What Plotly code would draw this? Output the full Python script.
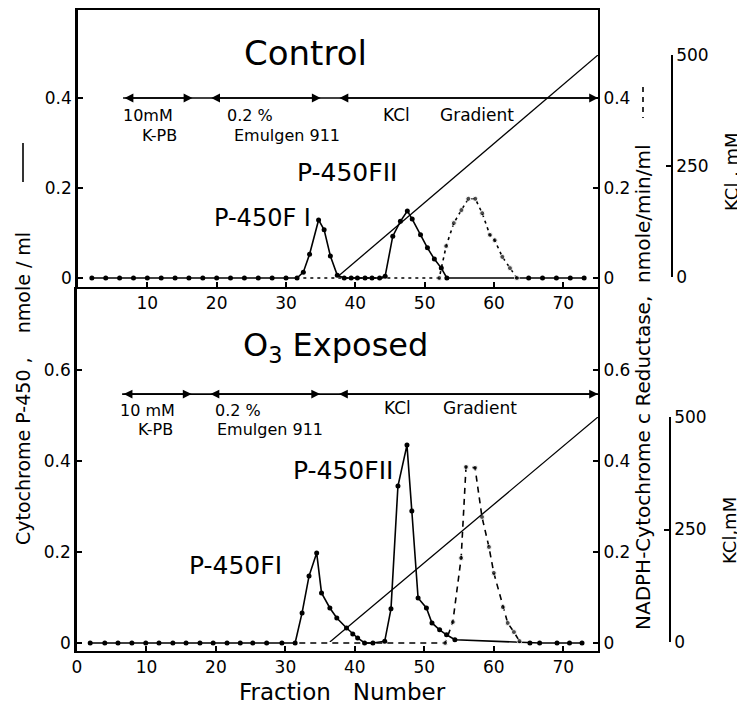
import plotly.graph_objects as go

# page offset of the figure inside the browser window (default body margin)
OFF = 8
W, H = 745 - OFF, 704 - OFF
def px(x): return min(max((x - OFF) / W, 0), 1)
def py(y): return min(max(1 - (y - OFF) / H, 0), 1)

# ---------------- data ----------------
# Control panel: cytochrome P-450 (solid), nmole/ml
ctl_p450_x = [2, 4, 6, 8, 10, 12, 14, 16, 18, 20, 22, 24, 26, 28, 30, 31.6,
              32.5, 33.4, 34.7, 35.5, 36.4, 37.4,
              38.4, 39.4, 40.3, 41.4, 42.4, 43.5,
              44.3, 45.4, 46.5, 47.5, 48.2, 49.4, 50.4, 51.4, 52.4, 53.2,
              65, 67, 69, 71, 73]
ctl_p450_y = [0] * 16 + [0.013, 0.053, 0.129, 0.107, 0.049, 0.006,
              0, 0, 0, 0, 0, 0,
              0.004, 0.093, 0.126, 0.149, 0.131, 0.096, 0.067, 0.042, 0.022, 0.0,
              0, 0, 0, 0, 0]
# Control panel: NADPH-cytochrome c reductase (dashed), nmole/min/ml
ctl_red_x = [32.5, 52.1, 53.1, 54.2, 55.3, 56.3, 57.3, 58.3, 59.4, 60.1, 61.2, 62.3, 63.3]
ctl_red_y = [0, 0, 0.071, 0.122, 0.151, 0.176, 0.176, 0.144, 0.096, 0.084, 0.047, 0.022, 0.0]
# Control panel: KCl gradient, mM
ctl_kcl_x = [37.4, 75]
ctl_kcl_y = [0, 500]

# O3 exposed panel
exp_p450_x = [1.9, 4, 5.9, 7.9, 9.9, 11.8, 13.8, 15.7, 17.7, 19.6, 21.6, 23.5, 25.3, 27.3, 29.5, 31.4,
              32.4, 33.4, 34.5, 35.2, 36.4, 37.4, 38.8, 39.7, 40.4, 41.4, 42.6, 44.3,
              45.2, 46.2, 47.5, 48.2, 49.1, 50.3, 51.1, 52.2, 53.2, 54.4,
              65.2, 66.6, 69.1, 70.9, 72.7]
exp_p450_y = [0] * 16 + [0.066, 0.147, 0.198, 0.110, 0.077, 0.055, 0.033, 0.020, 0.011, 0, 0, 0.004,
              0.075, 0.345, 0.435, 0.290, 0.099, 0.077, 0.044, 0.029, 0.018, 0.007,
              0, 0, 0, 0, 0]
exp_red_x = [32, 53.0, 54.1, 55.3, 56.0, 57.3, 58.3, 59.3, 60.0, 61.3, 62.0, 62.9, 63.7]
exp_red_y = [0, 0, 0.046, 0.187, 0.387, 0.385, 0.277, 0.211, 0.154, 0.079, 0.044, 0.024, 0.004]
exp_kcl_x = [36.4, 75]
exp_kcl_y = [0, 500]

# buffer phases (fraction ranges of the arrows)
phase_ranges = [(6.5, 16.5), (19, 35), (37.5, 75)]
ctl_phase_level = 0.4
exp_phase_level = 0.547

x_ticks_top = [10, 20, 30, 40, 50, 60, 70]
x_ticks_bot = [0, 10, 20, 30, 40, 50, 60, 70]
y_ticks_top = [0, 0.2, 0.4]
y_ticks_bot = [0, 0.2, 0.4, 0.6]
y_tick_text_top = ["0", "0.2", "0.4"]
y_tick_text_bot = ["0", "0.2", "0.4", "0.6"]
kcl_ticks = [0, 250, 500]

# ---------------- figure ----------------
LW = 1.6
MS = 5
fig = go.Figure()

def msizes(n, skip_first=False):
    s = [MS] * n
    if skip_first:
        s[0] = 0
    return s

fig.add_trace(go.Scatter(x=ctl_p450_x, y=ctl_p450_y, xaxis="x", yaxis="y", mode="lines+markers",
                         line=dict(color="black", width=LW), marker=dict(color="black", size=MS)))
fig.add_trace(go.Scatter(x=ctl_red_x, y=ctl_red_y, xaxis="x", yaxis="y2", mode="lines+markers",
                         line=dict(color="black", width=LW, dash="3px,4px"),
                         marker=dict(color="black", size=msizes(len(ctl_red_x), True))))
fig.add_trace(go.Scatter(x=ctl_kcl_x, y=ctl_kcl_y, xaxis="x", yaxis="y3", mode="lines",
                         line=dict(color="black", width=1.3)))

fig.add_trace(go.Scatter(x=exp_p450_x, y=exp_p450_y, xaxis="x2", yaxis="y4", mode="lines+markers",
                         line=dict(color="black", width=LW), marker=dict(color="black", size=MS)))
fig.add_trace(go.Scatter(x=exp_red_x, y=exp_red_y, xaxis="x2", yaxis="y5", mode="lines+markers",
                         line=dict(color="black", width=LW, dash="6px,5px"),
                         marker=dict(color="black", size=msizes(len(exp_red_x), True))))
fig.add_trace(go.Scatter(x=exp_kcl_x, y=exp_kcl_y, xaxis="x2", yaxis="y6", mode="lines",
                         line=dict(color="black", width=1.3)))

ax_common = dict(showline=True, linecolor="black", linewidth=2, ticks="inside", ticklen=5,
                 tickwidth=1.5, tickcolor="black", showgrid=False, zeroline=False,
                 automargin=False, tickfont=dict(size=17, color="black"))

# top panel spans 9..287 px; keep 0 at 278 px and 0.2 per 90 px
top_range = [-(287 - 278) / 450, (278 - 9) / 450]

layout = dict(
    width=W, height=H, margin=dict(l=0, r=0, t=0, b=0, pad=0, autoexpand=False),
    paper_bgcolor="white", plot_bgcolor="rgba(0,0,0,0)", showlegend=False,
    font=dict(family="DejaVu Sans", size=17, color="black"),
    xaxis=dict(domain=[px(78), px(598)], range=[0, 75], anchor="y", tickvals=x_ticks_top,
               mirror=True, **ax_common),
    yaxis=dict(domain=[py(287), py(9)], range=top_range, anchor="x", tickvals=y_ticks_top,
               ticktext=y_tick_text_top, **{**ax_common, "linewidth": 2.5}),
    yaxis2=dict(overlaying="y", side="right", anchor="x", range=top_range, tickvals=y_ticks_top,
                ticktext=y_tick_text_top, **ax_common),
    yaxis3=dict(domain=[py(277), py(55)], range=[0, 500], anchor="free", position=px(672), side="right",
                tickvals=kcl_ticks, **{**ax_common, "linewidth": 1.5}),
    xaxis2=dict(domain=[px(77), px(598)], range=[0, 75], anchor="y4", tickvals=x_ticks_bot,
                mirror=True, **ax_common),
    yaxis4=dict(domain=[py(651), py(289)], range=[-0.0176, 0.778], anchor="x2", tickvals=y_ticks_bot,
                ticktext=y_tick_text_bot, **{**ax_common, "linewidth": 2.5}),
    yaxis5=dict(overlaying="y4", side="right", anchor="x2", range=[-0.0176, 0.778], tickvals=y_ticks_bot,
                ticktext=y_tick_text_bot, **ax_common),
    yaxis6=dict(domain=[py(642), py(417)], range=[0, 500], anchor="free", position=px(670), side="right",
                tickvals=kcl_ticks, **{**ax_common, "linewidth": 1.5}),
)
fig.update_layout(**layout)

annotations = []
shapes = []

# top frame line of the control panel
shapes.append(dict(type="line", xref="x domain", yref="y domain", x0=0, x1=1, y0=1, y1=1,
                   line=dict(color="black", width=2)))

# phase arrows
for xr, yr, lvl in [("x", "y", ctl_phase_level), ("x2", "y4", exp_phase_level)]:
    shapes.append(dict(type="line", xref=xr, yref=yr, x0=phase_ranges[0][0], x1=phase_ranges[-1][1],
                       y0=lvl, y1=lvl, line=dict(color="black", width=1.6)))
    for a, b in phase_ranges:
        annotations.append(dict(x=b, y=lvl, ax=a, ay=lvl, xref=xr, yref=yr, axref=xr, ayref=yr,
                                text="", showarrow=True, arrowhead=2, arrowside="end+start",
                                arrowsize=1.1, arrowwidth=1.6, arrowcolor="black", standoff=0,
                                startstandoff=0))

def txt(x, y, s, size=17, angle=0):
    annotations.append(dict(x=px(x), y=py(y), xref="paper", yref="paper", text=s, showarrow=False,
                            xanchor="center", yanchor="middle", textangle=angle,
                            font=dict(size=size, color="black", family="DejaVu Sans")))

# control panel texts
txt(305, 53, "Control", 34)
txt(148, 115, "10mM", 16)
txt(159, 135, "K-PB", 16)
txt(250, 115, "0.2 %", 16)
txt(287, 135, "Emulgen 911", 16)
txt(396, 115, "KCl", 17)
txt(477, 115, "Gradient", 17)
txt(347, 173, "P-450FII", 25)
txt(263, 218, "P-450F I", 24)

# exposed panel texts
txt(335, 347, "O<sub>3</sub> Exposed", 32)
txt(147, 410, "10 mM", 16)
txt(155, 429, "K-PB", 16)
txt(238, 410, "0.2 %", 16)
txt(270, 429, "Emulgen 911", 16)
txt(397, 408, "KCl", 17)
txt(480, 408, "Gradient", 17)
txt(343, 470, "P-450FII", 25)
txt(235, 565, "P-450FI", 25)

# axis titles
txt(342, 692, "Fraction   Number", 23)
txt(23, 389, "Cytochrome P-450 ,    nmole / ml", 19, -90)
txt(643, 388, "NADPH-Cytochrome c Reductase,  nmole/min/ml", 20, -90)
txt(731, 172, "KCl , mM", 18, -90)
txt(729, 531, "KCl,mM", 18, -90)

# line-style keys
shapes.append(dict(type="line", xref="paper", yref="paper", x0=px(23), x1=px(23), y0=py(143), y1=py(182),
                   line=dict(color="black", width=1.6)))
shapes.append(dict(type="line", xref="paper", yref="paper", x0=px(643), x1=px(643), y0=py(87), y1=py(118),
                   line=dict(color="black", width=1.6, dash="5px,5px")))

fig.update_layout(annotations=annotations, shapes=shapes)
fig.write_html("out.html")
